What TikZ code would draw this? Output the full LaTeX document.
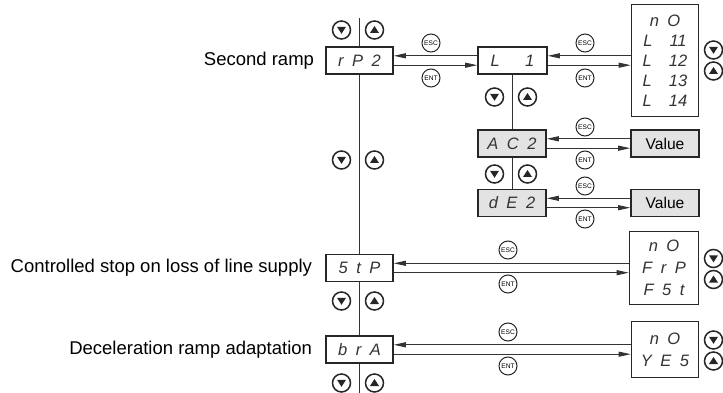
\documentclass[tikz,border=0pt]{standalone}
\usepackage{fontspec}
\setmainfont{Liberation Sans}
\usepackage{tikz}
\usetikzlibrary{arrows.meta, positioning}

\newcommand\segtxt{\fontsize{16.5}{20}\selectfont\itshape\spaceskip=8.5pt\relax}

\tikzset{
  dispbox/.style={draw=black!85, line width=1.6pt, minimum width=67pt, minimum height=27pt,
    inner sep=0pt, font=\segtxt, text=black!80},
  greybox/.style={dispbox, fill=black!11},
  listbox/.style={dispbox, align=center, minimum width=67pt},
  valbox/.style={draw=black!85, line width=1.6pt, fill=black!11, minimum width=68pt,
    minimum height=27pt, font=\fontsize{15.6}{18}\selectfont},
  lbl/.style={font=\fontsize{18.5}{22}\selectfont, inner sep=0pt},
  key/.style={circle, draw=black!85, line width=1pt, minimum size=18pt, inner sep=0pt,
    font=\fontsize{6.6}{6.6}\selectfont},
  btn/.style={circle, draw=black!85, line width=1.5pt, minimum size=18pt, inner sep=0pt},
  dnbtn/.style={btn, path picture={\fill[black!85, shift={(path picture bounding box.center)}]
    (0pt,-3.8pt) -- (-4.5pt,3.2pt) -- (4.5pt,3.2pt) -- cycle;}},
  upbtn/.style={btn, path picture={\fill[black!85, shift={(path picture bounding box.center)}]
    (0pt,4pt) -- (-4.5pt,-3pt) -- (4.5pt,-3pt) -- cycle;}},
  link/.style={line width=0.9pt, draw=black!80},
  arr/.style={link, -{Triangle[length=12pt,width=5pt]}}
}

\begin{document}
\begin{tikzpicture}[x=1pt, y=-1pt]
\useasboundingbox (0,0) rectangle (723,393);
% Displays
\node[dispbox] (rp2) at (359.5,60.5) {r P 2};
\node[dispbox, minimum width=69pt] (l1) at (512.5,60.5) {L \ \ 1};
\node[listbox, minimum height=112pt] (l1list) at (665,60.5) {n O\\L \ 11\\L \ 12\\L \ 13\\L \ 14};
\node[greybox, minimum width=68pt] (ac2) at (512,143.5) {A C 2};
\node[valbox] (val1) at (665,143.5) {Value};
\node[greybox, minimum width=68pt] (de2) at (512,203) {d E 2};
\node[valbox] (val2) at (665,203) {Value};
\node[dispbox] (stp) at (359.5,268) {5 t P};
\node[listbox, minimum height=73pt, minimum width=69pt] (stplist) at (664,268) {n O\\[2pt]F r P\\[2pt]F 5 t};
\node[dispbox] (bra) at (359.5,349.5) {b r A};
\node[listbox, minimum height=56pt] (bralist) at (665,349.5) {n O\\[2pt]Y E 5};

% Labels
\node[lbl, left=11pt of rp2] (lrp2) {Second ramp};
\node[lbl, left=13pt of stp] (lstp) {Controlled stop on loss of line supply};
\node[lbl, left=13pt of bra] (lbra) {Deceleration ramp adaptation};

% Vertical links
\coordinate (top) at (359.5,18);
\coordinate (bot) at (359.5,393);
\draw[link] (top) -- (rp2) -- (stp) -- (bra) -- (bot);
\draw[link] (l1.south -| ac2) -- (ac2) -- (de2);

% ESC / ENT links
\foreach \a/\b in {rp2/l1, l1/l1list, ac2/val1, de2/val2, stp/stplist, bra/bralist} {
  \draw[arr] ([yshift=4.7pt]\b.west) -- ([yshift=4.7pt]\a.east);
  \draw[arr] ([yshift=-4.7pt]\a.east) -- ([yshift=-4.7pt]\b.west);
}
\foreach \x/\y/\n in {431/43/a, 585/43/b, 585/127/c, 585/186/d, 508/250/e, 508/332/f} {
  \node[key] (esc\n) at (\x,\y) {ESC};
}
\foreach \x/\y/\n in {431/78/a, 585/78/b, 585/160/c, 585/219/d, 508/284/e, 508/366/f} {
  \node[key] (ent\n) at (\x,\y) {ENT};
}

% Up / down keys
\foreach \x/\y/\n in {358/30/a, 358/160/b, 358/301/c, 358/383/d, 511/97/e, 511/174/f} {
  \node[dnbtn] (dn\n) at (\x-16.5,\y) {};
  \node[upbtn] (up\n) at (\x+16.5,\y) {};
}
\foreach \y/\n in {60.5/g, 269/h, 350.5/i} {
  \node[dnbtn] (dn\n) at (713.5,\y-10.5) {};
  \node[upbtn] (up\n) at (713.5,\y+10.5) {};
}
\end{tikzpicture}
\end{document}
